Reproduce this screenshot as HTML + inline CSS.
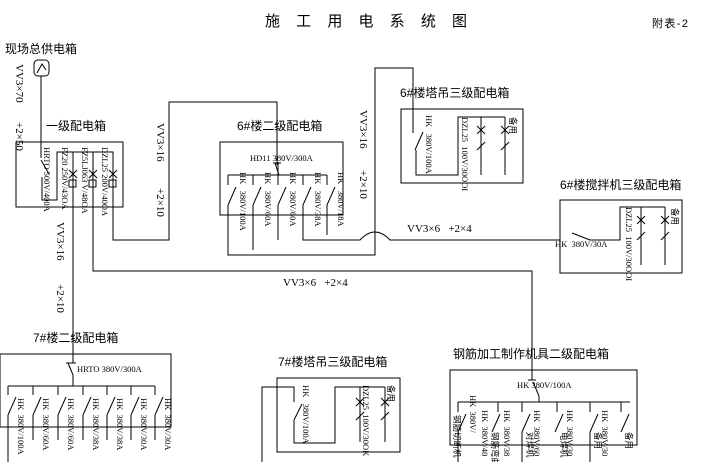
<!DOCTYPE html>
<html><head><meta charset="utf-8"><style>
body{margin:0;background:#fff}
svg{display:block}
text{font-family:"Liberation Serif","Noto Sans CJK SC",serif;fill:#000}
.c{font-family:"Liberation Sans","Noto Sans CJK SC",sans-serif;font-size:12px}
.s{font-size:8.5px}
.m{font-size:11px}
</style></head><body>
<svg width="701" height="462" viewBox="0 0 701 462" xmlns="http://www.w3.org/2000/svg" fill="none" stroke="#000" stroke-width="1">
<g stroke="none">
<text class="c" x="265" y="26" style="font-size:15px;letter-spacing:6px" fill="#000">施 工 用 电 系 统 图</text>
<text class="c" x="652" y="27" style="font-size:11px" textLength="36">附表-2</text>
<text class="c" x="5" y="53">现场总供电箱</text>
<text class="c" x="46" y="130">一级配电箱</text>
<text class="c" x="237" y="130">6#楼二级配电箱</text>
<text class="c" x="400" y="97">6#楼塔吊三级配电箱</text>
<text class="c" x="560" y="189">6#楼搅拌机三级配电箱</text>
<text class="c" x="33" y="342">7#楼二级配电箱</text>
<text class="c" x="278" y="366">7#楼塔吊三级配电箱</text>
<text class="c" x="453" y="358">钢筋加工制作机具二级配电箱</text>
<text class="m" x="407" y="232">VV3×6&#160;&#160;&#160;+2×4</text>
<text class="m" x="283" y="286">VV3×6&#160;&#160;&#160;+2×4</text>
<text class="s" x="250" y="161">HD11 380V/300A</text>
<text class="s" x="77" y="372">HRTO 380V/300A</text>
<text class="s" x="517" y="388">HK 380V/100A</text>
<text class="s" x="555" y="247">HK&#160; 380V/30A</text>
</g>
<g stroke="none" class="m">
<text class="m" transform="translate(16,64) rotate(90)">VV3×70</text>
<text class="m" transform="translate(16,122) rotate(90)">+2×50</text>
<text class="m" transform="translate(157,123) rotate(90)">VV3×16</text>
<text class="m" transform="translate(157,188) rotate(90)">+2×10</text>
<text class="m" transform="translate(360,110) rotate(90)">VV3×16</text>
<text class="m" transform="translate(360,170) rotate(90)">+2×10</text>
<text class="m" transform="translate(57,222) rotate(90)">VV3×16</text>
<text class="m" transform="translate(57,284) rotate(90)">+2×10</text>
<text class="s" transform="translate(44,147) rotate(90)">HRTO 500V/400A</text>
<text class="s" transform="translate(62,147) rotate(90)">FZ20 250V/43OA</text>
<text class="s" transform="translate(82,147) rotate(90)">FZ5LJ063 V/48OA</text>
<text class="s" transform="translate(102,147) rotate(90)">DZL25 200V/40OA</text>
<text class="s" transform="translate(426,115) rotate(90)">HK&#160;&#160;&#160;380V/100A</text>
<text class="s" transform="translate(462,117) rotate(90)">DZL25&#160; 100V/30OOI</text>
<text class="s" transform="translate(510,117) rotate(90)">备用</text>
<text class="s" transform="translate(626,207) rotate(90)">DZL25&#160; 100V/30OOI</text>
<text class="s" transform="translate(672,208) rotate(90)">备用</text>
<text class="s" transform="translate(303,385) rotate(90)">HK&#160;&#160;&#160;380V/100A</text>
<text class="s" transform="translate(363,385) rotate(90)">DZL25&#160; 100V/30OK</text>
<text class="s" transform="translate(388,385) rotate(90)">备用</text>
</g>
<rect x="34" y="60" width="15" height="16" rx="4"/>
<path d="M37 73 L42 64 L46 70"/>
<rect x="16" y="142" width="107" height="65"/>
<path d="M41 76 V158 M41 160 L49 174 M42 177 V200 H57 V152 H113 V240 H169 V102 H277 V165"/>
<path d="M73 152 V354 M93 152 V271 H532 V370"/>
<g stroke-width="1">
<path d="M69 170 l8 8 M77 170 l-8 8 M89 170 l8 8 M97 170 l-8 8 M109 170 l8 8 M117 170 l-8 8"/>
<rect x="69" y="180" width="7" height="7"/><rect x="89" y="180" width="7" height="7"/><rect x="109" y="180" width="7" height="7"/>
</g>
<rect x="220" y="142" width="123" height="73"/>
<path d="M273 163 H281 M275 163 L279 175 M278 175 V175 M228 175 H327 M278 162 V175"/>
<g>
<path d="M228 175 V185 M228 205 L236 187 M228 205 V255 H375 V68 H413 V133"/>
<path d="M253 175 V185 M253 205 L261 187 M253 205 V250"/>
<path d="M278 175 V185 M278 205 L286 187 M278 205 V240"/>
<path d="M303 175 V185 M303 205 L311 187 M303 205 V240 H360 Q375 224 390 240 H560"/>
<path d="M327 175 V185 M327 205 L335 187 M327 205 V235"/>
</g>
<g stroke="none" class="s">
<text class="s" transform="translate(240,172) rotate(90)">HK&#160;&#160; 380V/100A</text>
<text class="s" transform="translate(265,172) rotate(90)">HK&#160;&#160; 380V/60A</text>
<text class="s" transform="translate(290,172) rotate(90)">HK&#160;&#160; 380V/60A</text>
<text class="s" transform="translate(315,172) rotate(90)">HK&#160;&#160; 380V/38A</text>
<text class="s" transform="translate(338,172) rotate(90)">HK&#160;&#160; 380V/18A</text>
</g>
<rect x="401" y="109" width="122" height="74"/>
<path d="M415 150 L423 132 M416 150 V175 H458 V117 H505 M481 117 V175 M505 117 V175"/>
<path d="M477 126 l8 8 M485 126 l-8 8 M477 150 l8 -8 M501 126 l8 8 M509 126 l-8 8 M501 150 l8 -8"/>
<rect x="560" y="200" width="122" height="73"/>
<path d="M572 233 L590 240 M590 240 H620 V207 H665 M641 207 V265 M665 207 V265"/>
<path d="M637 216 l8 8 M645 216 l-8 8 M637 240 l8 -8 M661 216 l8 8 M669 216 l-8 8 M661 240 l8 -8"/>
<rect x="0" y="354" width="171" height="73"/>
<path d="M73 354 V363 M66 363 H76 M68 363 L73 375 M73 375 V386 M8 386 H155"/>
<g>
<path d="M8 386 V395 M8 415 L16 397 M8 415 V462"/>
<path d="M33 386 V395 M33 415 L41 397 M33 415 V440"/>
<path d="M58 386 V395 M58 415 L66 397 M58 415 V440"/>
<path d="M83 386 V395 M83 415 L91 397 M83 415 V440"/>
<path d="M107 386 V395 M107 415 L115 397 M107 415 V440"/>
<path d="M131 386 V395 M131 415 L139 397 M131 415 V440"/>
<path d="M155 386 V395 M155 415 L163 397 M155 415 V440"/>
</g>
<g stroke="none">
<text class="s" transform="translate(18,398) rotate(90)">HK&#160; 380V/100A</text>
<text class="s" transform="translate(43,398) rotate(90)">HK&#160; 380V/60A</text>
<text class="s" transform="translate(68,398) rotate(90)">HK&#160; 380V/60A</text>
<text class="s" transform="translate(93,398) rotate(90)">HK&#160; 380V/38A</text>
<text class="s" transform="translate(117,398) rotate(90)">HK&#160; 380V/38A</text>
<text class="s" transform="translate(141,398) rotate(90)">HK&#160; 380V/30A</text>
<text class="s" transform="translate(165,398) rotate(90)">HK&#160; 380V/30A</text>
</g>
<rect x="277" y="378" width="123" height="74"/>
<path d="M262 462 V387 H294 V402 M294 420 L302 404 M294 420 V443 H335 V387 H385 M360 387 V442 M385 387 V442"/>
<path d="M356 398 l8 8 M364 398 l-8 8 M356 420 l8 -8 M381 398 l8 8 M389 398 l-8 8 M381 420 l8 -8"/>
<rect x="450" y="370" width="187" height="75"/>
<path d="M532 370 V380 M528 380 H536 M533 382 L539 396 M539 396 V402 M458 402 H630 M498 402 H458"/>
<g>
<path d="M458 402 V412 M458 432 L466 414 M458 432 V462"/>
<path d="M498 402 V412 M492 432 L500 414"/>
<path d="M522 402 V412 M522 432 L530 414 M522 432 V462"/>
<path d="M557 402 V412 M555 432 L563 414"/>
<path d="M590 402 V412 M590 432 L598 414 M590 432 V462"/>
<path d="M621 402 V412 M621 432 L629 414"/>
</g>
<g stroke="none">
<text class="s" transform="translate(470,395) rotate(90)">HK&#160; 380V/</text>
<text class="s" transform="translate(482,410) rotate(90)">HK&#160; 380V/40</text>
<text class="s" transform="translate(504,410) rotate(90)">HK&#160; 380V/38</text>
<text class="s" transform="translate(534,410) rotate(90)">HK&#160; 380V/60</text>
<text class="s" transform="translate(567,410) rotate(90)">HK&#160; 380V/30</text>
<text class="s" transform="translate(602,410) rotate(90)">HK&#160; 380V/30</text>
<text class="s" transform="translate(454,415) rotate(90)">钢筋切断机</text>
<text class="s" transform="translate(492,432) rotate(90)">钢筋弯曲</text>
<text class="s" transform="translate(527,432) rotate(90)">对焊机</text>
<text class="s" transform="translate(561,432) rotate(90)">电焊机</text>
<text class="s" transform="translate(595,432) rotate(90)">备用</text>
<text class="s" transform="translate(626,432) rotate(90)">备用</text>
</g>
</svg>
</body></html>
